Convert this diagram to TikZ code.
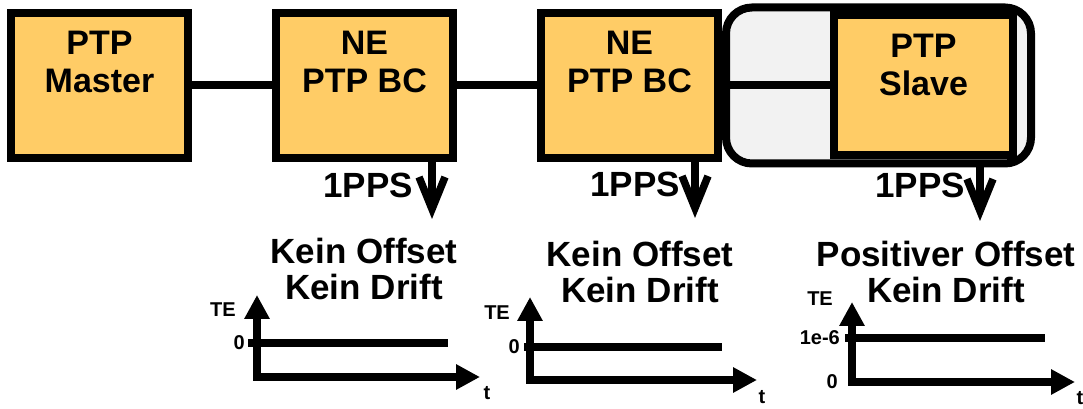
\documentclass[tikz,border=0pt]{standalone}
\usepackage{fontspec}
\setmainfont{Liberation Sans}
\usetikzlibrary{positioning, arrows.meta}

\definecolor{ptpgold}{HTML}{FFCC66}
\definecolor{framegray}{HTML}{F2F2F2}

\begin{document}
\begin{tikzpicture}[
    x=1pt, y=1pt,
    ptpbox/.style={
        rectangle,
        draw,
        line width=8pt,
        fill=ptpgold,
        minimum width=177pt,
        minimum height=145pt
    },
    boxtext/.style={
        align=center,
        inner sep=0pt,
        font=\fontsize{34}{38}\selectfont\bfseries
    },
    heading/.style={
        align=center,
        inner sep=0pt,
        font=\fontsize{35}{36}\selectfont\bfseries
    },
    ppslabel/.style={
        inner sep=0pt,
        font=\fontsize{35}{36}\selectfont\bfseries
    },
    axislabel/.style={
        inner sep=0pt,
        font=\fontsize{20}{20}\selectfont\bfseries
    },
    link/.style={
        line width=8pt
    },
    pps/.style={
        line width=7.5pt,
        -{Straight Barb[length=32pt, width=26pt]}
    },
    axis/.style={
        line width=8pt,
        line cap=rect,
        -{Triangle[length=24pt, width=24pt]}
    },
    level/.style={
        line width=8pt
    }
]

\useasboundingbox (0,0) rectangle (1083,409);

% clock chain
\node[ptpbox] (master) at (99.5,323.5) {};
\node[ptpbox, right=80pt of master] (bc1) {};
\node[ptpbox, right=80pt of bc1] (bc2) {};
\node[rectangle, rounded corners=26pt, draw, line width=8pt, fill=framegray,
      minimum width=305pt, minimum height=156pt,
      right=0pt of bc2] (frame) {};

\draw[link] (master) -- (bc1);
\draw[link] (bc1) -- (bc2);
\draw[link] (bc2) -- (frame.center);

\node[ptpbox, minimum width=179pt, minimum height=140pt,
      left=18pt of frame.east] (slave) {};

\node[boxtext, below=22pt of master.north] (master-text) {PTP\\Master};
\node[boxtext, below=22pt of bc1.north] (bc1-text) {NE\\PTP BC};
\node[boxtext, below=22pt of bc2.north] (bc2-text) {NE\\PTP BC};
\node[boxtext, below=22pt of slave.north] (slave-text) {PTP\\Slave};

% 1PPS outputs
\coordinate (tip1) at (432,190);
\coordinate (tip2) at (695,191);
\coordinate (tip3) at (980,188);
\draw[pps] (bc1.south -| tip1) -- (tip1);
\draw[pps] (bc2.south -| tip2) -- (tip2);
\draw[pps] (frame.south -| tip3) -- (tip3);
\node[ppslabel, anchor=base east] (pps1) at (413,211) {1PPS};
\node[ppslabel, anchor=base east] (pps2) at (680,212) {1PPS};
\node[ppslabel, anchor=base east] (pps3) at (965,211) {1PPS};

\node[heading, anchor=north] (state1) at (364,171) {Kein Offset\\Kein Drift};
\node[heading, anchor=north] (state2) at (640,168) {Kein Offset\\Kein Drift};
\node[heading, anchor=north] (state3) at (946,168) {Positiver Offset\\Kein Drift};

% time error plots
\coordinate (o1) at (257,32);
\coordinate (y1) at (257,114);
\coordinate (x1) at (480,32);
\coordinate (lv1a) at (248,66);
\coordinate (lv1b) at (448,66);
\draw[axis] (o1) -- (y1);
\draw[axis] (o1) -- (x1);
\draw[level] (lv1a) -- (lv1b);
\node[axislabel, anchor=east] (te1) at (236,99) {TE};
\node[axislabel, left=3pt of lv1a] (zero1) {0};
\node[axislabel] (t1) at (487,16) {t};

\coordinate (o2) at (530,29);
\coordinate (y2) at (530,112);
\coordinate (x2) at (757,29);
\coordinate (lv2a) at (524,62);
\coordinate (lv2b) at (722,62);
\draw[axis] (o2) -- (y2);
\draw[axis] (o2) -- (x2);
\draw[level] (lv2a) -- (lv2b);
\node[axislabel, anchor=east] (te2) at (510,96) {TE};
\node[axislabel, left=4pt of lv2a] (zero2) {0};
\node[axislabel] (t2) at (762,12) {t};

\coordinate (o3) at (852,27);
\coordinate (y3) at (852,107);
\coordinate (x3) at (1075,27);
\coordinate (lv3a) at (845,71);
\coordinate (lv3b) at (1045,71);
\draw[axis] (o3) -- (y3);
\draw[axis] (o3) -- (x3);
\draw[level] (lv3a) -- (lv3b);
\node[axislabel, anchor=east] (te3) at (833,110) {TE};
\node[axislabel, left=5pt of lv3a] (offset3) {1e-6};
\node[axislabel, left=14pt of o3] (zero3) {0};
\node[axislabel] (t3) at (1080,11) {t};

\end{tikzpicture}
\end{document}
